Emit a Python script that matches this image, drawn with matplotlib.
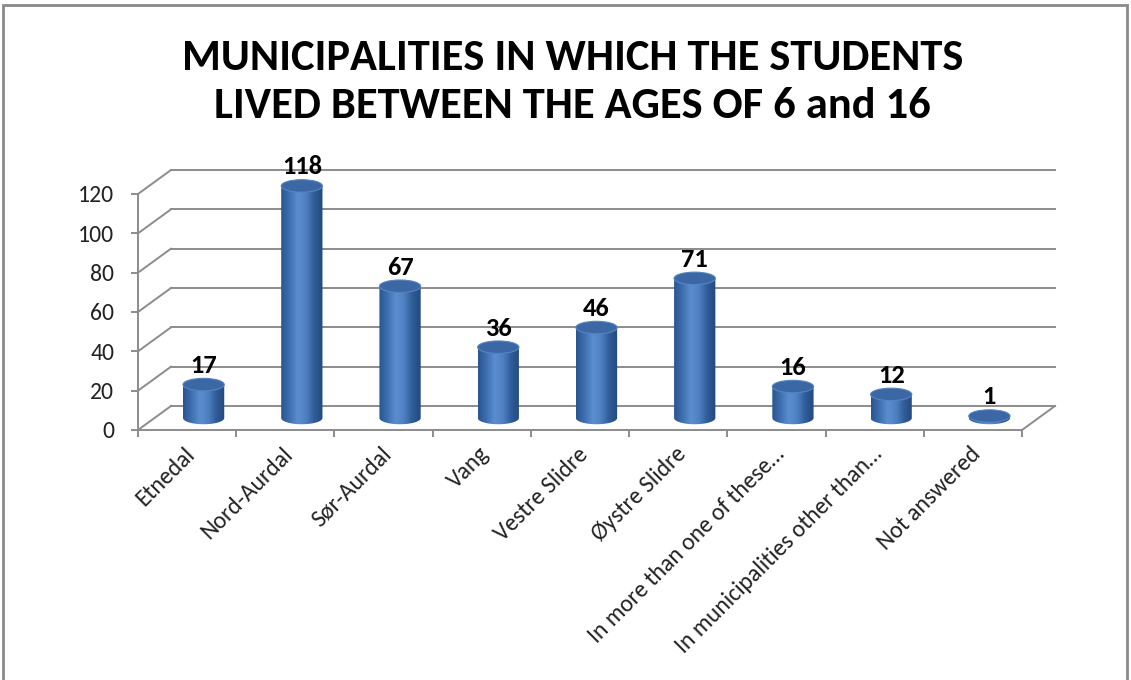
import numpy as np
import matplotlib.pyplot as plt
import matplotlib.patches as mpatches
from matplotlib.path import Path
from matplotlib import font_manager
from matplotlib.colors import LinearSegmentedColormap

categories = ["Etnedal", "Nord-Aurdal", "Sør-Aurdal", "Vang", "Vestre Slidre",
              "Øystre Slidre", "In more than one of these…",
              "In municipalities other than…", "Not answered"]
values = [17, 118, 67, 36, 46, 71, 16, 12, 1]
y_ticks = [0, 20, 40, 60, 80, 100, 120]
title = "MUNICIPALITIES IN WHICH THE STUDENTS\nLIVED BETWEEN THE AGES OF 6 and 16"

# pick a narrow-ish font if there is one
names = {f.name for f in font_manager.fontManager.ttflist}
font = next((f for f in ["Liberation Sans Narrow", "Carlito", "Open Sans"] if f in names), "DejaVu Sans")
plt.rcParams["font.family"] = [font, "DejaVu Sans"]

W, H = 1131, 680
fig = plt.figure(figsize=(W / 100, H / 100), dpi=100)
fig.patch.set_facecolor("white")

# front plane: x from 138 to 1022 px, value 0 at y=430, 120 at y=194
ax = fig.add_axes([138 / W, 250 / H, 884 / W, 265.5 / H])
n = len(values)
px_x = 884 / n          # px per category
px_y = 236 / 120        # px per value unit
DX = 33 / px_x          # depth offset in data units
DY = 24 / px_y

grid_col = "#8c8c8c"

# back wall gridlines and left side diagonals
for v in y_ticks:
    ax.plot([-0.5 + DX, n - 0.5 + DX], [v + DY, v + DY], color=grid_col, lw=1.4, clip_on=False)
    ax.plot([-0.5, -0.5 + DX], [v, v + DY], color=grid_col, lw=1.4, clip_on=False)
# right floor edge
ax.plot([n - 0.5, n - 0.5 + DX], [0, DY], color=grid_col, lw=1.4, clip_on=False)

# cylinders
cmap = LinearSegmentedColormap.from_list("cyl", ["#2a5590", "#3f6fb0", "#5b8ed0", "#4f80c2", "#2f5c98", "#23497f"])
grad = np.linspace(0, 1, 64).reshape(1, -1)
bw = 0.42
eh = 12.5 / px_y
t = np.linspace(np.pi, 2 * np.pi, 40)
for i, v in enumerate(values):
    xc = i + DX / 2
    yb = DY / 2
    yt = yb + v
    xs = np.concatenate([[xc - bw / 2], xc + bw / 2 * np.cos(t), [xc + bw / 2, xc - bw / 2]])
    ys = np.concatenate([[yt], yb + eh / 2 * np.sin(t), [yt, yt]])
    body = mpatches.PathPatch(Path(np.column_stack([xs, ys])), facecolor="none", edgecolor="none")
    ax.add_patch(body)
    im = ax.imshow(grad, cmap=cmap, aspect="auto", interpolation="bicubic",
                   extent=[xc - bw / 2, xc + bw / 2, yb - eh, yt], zorder=2)
    im.set_clip_path(body)
    top = mpatches.Ellipse((xc, yt), bw, eh, facecolor="#3b68a5", edgecolor="#5584c2", lw=0.8, zorder=3)
    ax.add_patch(top)
    ax.annotate(str(v), (xc, yt + eh / 2), xytext=(0, 1), textcoords="offset points",
                ha="center", va="bottom", fontsize=19, fontweight="bold", color="black", zorder=4)

ax.set_xlim(-0.5, n - 0.5)
ax.set_ylim(0, 135)

# axes styling
for s in ["top", "right"]:
    ax.spines[s].set_visible(False)
ax.spines["left"].set_bounds(0, 120)
ax.spines["left"].set_color(grid_col)
ax.spines["bottom"].set_color(grid_col)
ax.spines["left"].set_linewidth(1.4)
ax.spines["bottom"].set_linewidth(1.4)
ax.set_yticks(y_ticks)
ax.set_yticklabels([str(v) for v in y_ticks], fontsize=17, color="#222222")
ax.set_xticks(np.arange(-0.5, n, 1.0))
ax.set_xticklabels([])
ax.tick_params(axis="both", color=grid_col, width=1.4, length=5)
ax.tick_params(axis="y", pad=12)
ax.patch.set_alpha(0)

for i, c in enumerate(categories):
    ax.annotate(c, (i, 0), xytext=(3, -15), textcoords="offset points", rotation=45,
                rotation_mode="anchor", ha="right", va="center", fontsize=17, color="#222222")

fig.text(0.506, 0.880, title, ha="center", va="center", fontsize=32, fontweight="bold",
         linespacing=1.32)

# outer frame
fig.add_artist(mpatches.Rectangle((3 / W, -0.1), 1124 / W, 1.1 - 5 / H, transform=fig.transFigure,
                                  fill=False, edgecolor="#8a8a8a", lw=2))

fig.savefig("out.png", dpi=100)
